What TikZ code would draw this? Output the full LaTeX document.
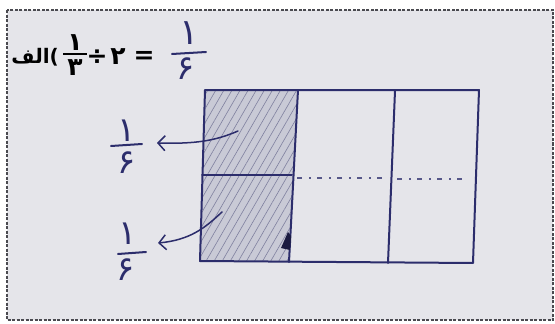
\documentclass[tikz,border=0pt]{standalone}
\usepackage{fontspec}
\TeXXeTstate=1
\newfontfamily\fa[Script=Arabic]{DejaVu Sans}
\usetikzlibrary{arrows.meta,patterns.meta}
\definecolor{ink}{HTML}{2C2D6C}
\definecolor{paper}{HTML}{E5E5EA}
\definecolor{edge}{HTML}{4A4A50}
\definecolor{cellgray}{HTML}{C9CAD6}
\definecolor{hatchc}{HTML}{7F809E}
\tikzset{
  frame/.style={draw=edge,line width=1.3pt,dash pattern=on 3pt off 1.5pt},
  pen/.style={draw=ink,line width=2pt,line cap=round,line join=round},
  thinpen/.style={draw=ink,line width=1.5pt,line cap=round},
  hatchfill/.style={pattern={Lines[angle=60,distance=7pt,line width=0.6pt]},pattern color=hatchc},
  dotline/.style={draw=ink!80,line width=1.3pt,dash pattern=on 5pt off 7pt on 2pt off 6pt},
  print/.style={inner sep=0pt,font=\fa\bfseries\fontsize{25}{25}\selectfont,text=black},
  hand/.style={inner sep=0pt,font=\fa\fontsize{34}{34}\selectfont,text=ink},
  arr/.style={thinpen,-{Straight Barb[length=7pt,width=15pt,line width=1.5pt]}}
}
\begin{document}
\begin{tikzpicture}[x=1pt,y=-1pt]
\useasboundingbox (0,0) rectangle (555,324);
\fill[white] (0,0) rectangle (555,324);
\fill[paper] (7,10) rectangle (553,320);
\draw[frame] (7,10) rectangle (553,320);

% question
\node[print,anchor=east,font=\fa\bfseries\fontsize{20}{20}\selectfont] (alef) at (59,57) {\beginR الف\endR)};
\node[print] (n1) at (75,43) {۱};
\coordinate (b1l) at (63,54); \coordinate (b1r) at (87,54);
\draw[black,line width=1.8pt] (b1l) -- (b1r);
\node[print] (d1) at (75,68) {۳};
\node[print] (div) at (97,57) {÷};
\node[print] (two) at (118,57) {۲};
\node[print] (eq) at (144,57) {=};

% handwritten answer
\node[hand,font=\fa\fontsize{36}{36}\selectfont] (an) at (189,33) {۱};
\coordinate (abl) at (172,54); \coordinate (abr) at (206,52);
\draw[pen] (abl) -- (abr);
\node[hand] (ad) at (186,69) {۶};

% rectangle
\coordinate (A) at (205,90);
\coordinate (B) at (479,90);
\coordinate (C) at (473,263);
\coordinate (D) at (200,261);
\coordinate (V1t) at (298,90); \coordinate (V1b) at (289,262);
\coordinate (V2t) at (395,91); \coordinate (V2b) at (388,263);
\coordinate (H1l) at (202,175); \coordinate (H1r) at (292,175);

% shading of first column
\fill[cellgray] (A) -- (V1t) -- (V1b) -- (D) -- cycle;
\path[hatchfill] (A) -- (V1t) -- (V1b) -- (D) -- cycle;

\draw[pen] (A) -- (B) -- (C) -- (D) -- cycle;
\draw[pen] (V1t) -- (V1b);
\draw[pen] (V2t) -- (V2b);
\draw[pen] (H1l) -- (H1r);
\coordinate (h2a) at (297,178); \coordinate (h2b) at (386,178);
\coordinate (h3a) at (397,179); \coordinate (h3b) at (462,179);
\draw[dotline] (h2a) -- (h2b);
\draw[dotline] (h3a) -- (h3b);
\fill[ink!60!black] (281,248) -- (288,232) -- (291,236) -- (290,250) -- cycle;

% labels with arrows
\node[hand] (u1) at (127,131) {۱};
\coordinate (ubl) at (111,146); \coordinate (ubr) at (142,144);
\draw[pen] (ubl) -- (ubr);
\node[hand] (u6) at (127,163) {۶};
\coordinate (us) at (238,131); \coordinate (ut) at (157,143);
\draw[arr] (us) .. controls (215,141) and (195,144) .. (ut);

\node[hand] (l1) at (128,234) {۱};
\coordinate (lbl) at (118,254); \coordinate (lbr) at (146,252);
\draw[pen] (lbl) -- (lbr);
\node[hand] (l6) at (126,270) {۶};
\coordinate (ls) at (222,212); \coordinate (lt) at (158,243);
\draw[arr] (ls) .. controls (205,228) and (190,240) .. (lt);
\end{tikzpicture}
\end{document}
